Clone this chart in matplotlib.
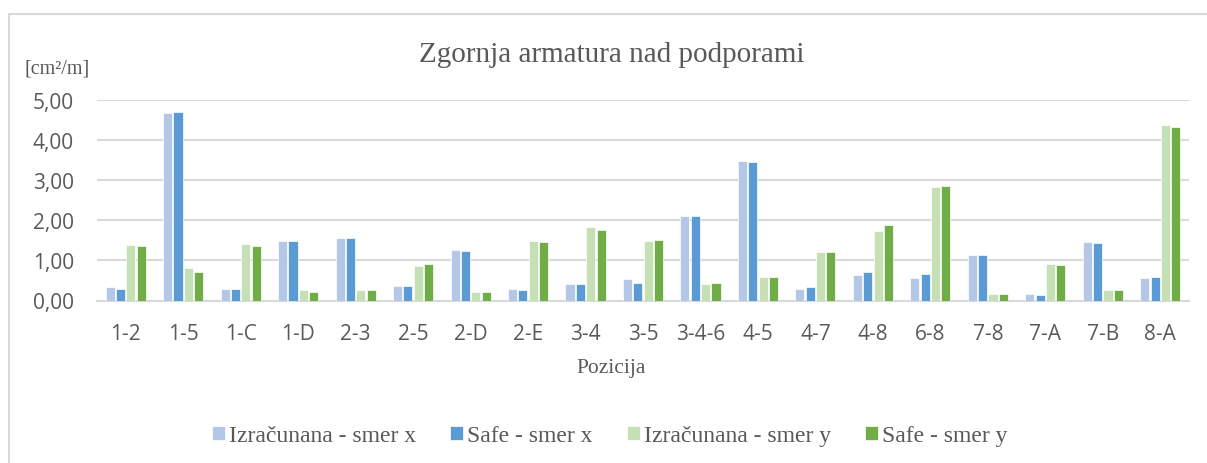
import numpy as np
import matplotlib
matplotlib.use("Agg")
import matplotlib.pyplot as plt
from matplotlib.lines import Line2D

pozicije = ["1-2", "1-5", "1-C", "1-D", "2-3", "2-5", "2-D", "2-E", "3-4", "3-5",
            "3-4-6", "4-5", "4-7", "4-8", "6-8", "7-8", "7-A", "7-B", "8-A"]
izr_x = [0.33, 4.67, 0.28, 1.49, 1.57, 0.37, 1.27, 0.29, 0.42, 0.53,
         2.11, 3.48, 0.28, 0.63, 0.57, 1.13, 0.17, 1.47, 0.57]
safe_x = [0.29, 4.69, 0.28, 1.48, 1.56, 0.36, 1.24, 0.27, 0.40, 0.43,
          2.10, 3.46, 0.33, 0.70, 0.66, 1.13, 0.13, 1.43, 0.58]
izr_y = [1.39, 0.82, 1.40, 0.26, 0.27, 0.86, 0.22, 1.49, 1.83, 1.49,
         0.42, 0.58, 1.20, 1.74, 2.84, 0.16, 0.91, 0.26, 4.37]
safe_y = [1.35, 0.71, 1.37, 0.22, 0.27, 0.92, 0.20, 1.46, 1.76, 1.51,
          0.43, 0.58, 1.20, 1.89, 2.86, 0.16, 0.89, 0.25, 4.33]

serije = ["Izračunana - smer x", "Safe - smer x", "Izračunana - smer y", "Safe - smer y"]
barve = ["#B4C7E7", "#5B9BD5", "#C5E0B4", "#70AD47"]

W, H = 1207, 464
fig = plt.figure(figsize=(W / 100, H / 100), dpi=100)

# okvir (samo levo in zgoraj je viden)
fig.add_artist(Line2D([8.5 / W, 8.5 / W], [0, 1 - 14.5 / H], color="#D9D9D9", lw=1.5))
fig.add_artist(Line2D([8.5 / W, 1], [1 - 14.5 / H, 1 - 14.5 / H], color="#D9D9D9", lw=1.5))

ax = fig.add_axes([97 / W, 1 - 301.5 / H, (1189 - 97) / W, 200.5 / H])

x = np.arange(len(pozicije))
sirina = 0.158
korak = 0.18
for i, (vals, barva, ime) in enumerate(zip([izr_x, safe_x, izr_y, safe_y], barve, serije)):
    ax.bar(x + (i - 1.5) * korak, vals, sirina, color=barva, label=ime,
           edgecolor="white", linewidth=0.5, zorder=3)

ax.set_xlim(-0.5, len(pozicije) - 0.5)
ax.set_ylim(0, 5)
ax.set_yticks(np.arange(0, 6, 1))
ax.yaxis.set_major_formatter(plt.FuncFormatter(lambda v, p: ("%.2f" % v).replace(".", ",")))
ax.set_xticks(x)
ax.set_xticklabels(pozicije)
ax.grid(axis="y", color="#D9D9D9", lw=1.5, zorder=0)
for s in ["top", "right", "left"]:
    ax.spines[s].set_visible(False)
ax.spines["bottom"].set_color("#D9D9D9")
ax.spines["bottom"].set_linewidth(1.5)
ax.tick_params(length=0, colors="#595959", labelsize=15)
ax.tick_params(axis="x", pad=16)
ax.tick_params(axis="y", pad=16.5)
for t in ax.get_xticklabels() + ax.get_yticklabels():
    t.set_family("Open Sans")

fig.text(612 / W, 1 - 55 / H, "Zgornja armatura nad podporami", ha="center", va="center",
         family="Liberation Serif", fontsize=21, color="#595959")
fig.text(24 / W, 1 - 69 / H, "[cm²/m]", ha="left", va="center",
         family="Liberation Serif", fontsize=14.5, color="#595959")
fig.text(611 / W, 1 - 368 / H, "Pozicija", ha="center", va="center",
         family="Liberation Serif", fontsize=15.5, color="#595959")

leg = fig.legend(loc="center", bbox_to_anchor=(609.5 / W, 1 - 437 / H), ncol=4, frameon=False,
                 prop={"family": "Liberation Serif", "size": 17}, handlelength=0.55,
                 handleheight=0.55, handletextpad=0.17, columnspacing=1.45,
                 borderpad=0, borderaxespad=0)
for t in leg.get_texts():
    t.set_color("#595959")

fig.savefig("out.png", dpi=100)
